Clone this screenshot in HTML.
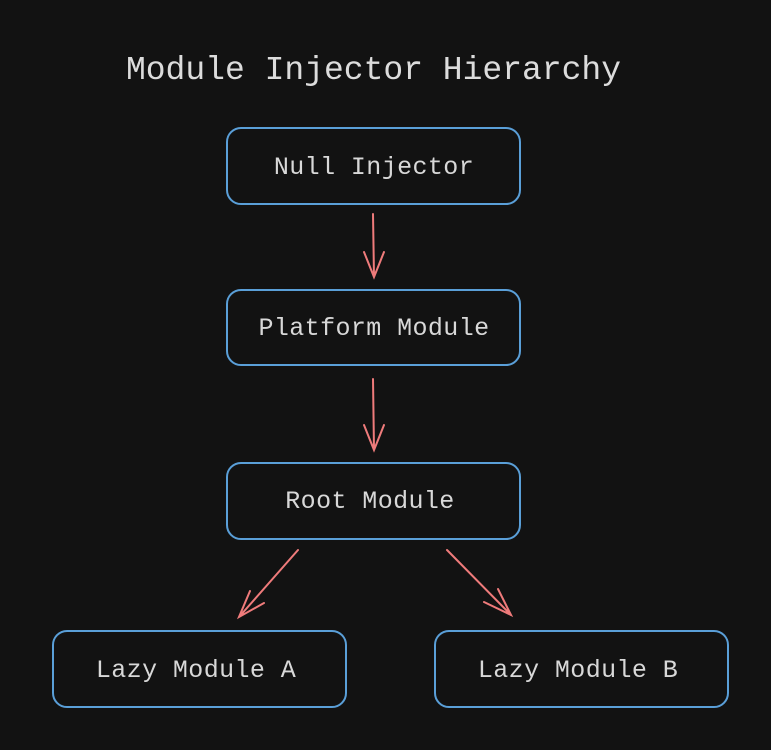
<!DOCTYPE html>
<html><head><meta charset="utf-8"><style>
html,body{margin:0;padding:0;background:#121212;}
body{width:771px;height:750px;overflow:hidden;}
</style></head><body>
<svg width="771" height="750" xmlns="http://www.w3.org/2000/svg" style="display:block">
<rect width="771" height="750" fill="#121212"/>
<text x="373.5" y="79" text-anchor="middle" font-family="Liberation Mono, monospace" font-size="33" fill="#dcdcdc">Module Injector Hierarchy</text>
<g fill="none" stroke="#5a9fd8" stroke-width="2">
<rect x="227" y="128" width="293" height="76" rx="14"/>
<rect x="227" y="290" width="293" height="75" rx="14"/>
<rect x="227" y="463" width="293" height="76" rx="14"/>
<rect x="53" y="631" width="293" height="76" rx="14"/>
<rect x="435" y="631" width="293" height="76" rx="14"/>
</g>
<g font-family="Liberation Mono, monospace" font-size="25" letter-spacing="0.4" fill="#d8d8d8" text-anchor="middle">
<text x="374" y="174">Null Injector</text>
<text x="374" y="335">Platform Module</text>
<text x="370" y="508">Root Module</text>
<text x="196" y="677">Lazy Module A</text>
<text x="578" y="677">Lazy Module B</text>
</g>
<g fill="none" stroke="#ef7b7b" stroke-width="2" stroke-linecap="round">
<path d="M373 214 L374 277 M364 252 L374 277 L384 252"/>
<path d="M373 379 L374 450 M364 425 L374 450 L384 425"/>
<path d="M298 550 L239 617 M250 591 L239 617 L264 603"/>
<path d="M447 550 L511 615 M498 589 L511 615 L484 602"/>
</g>
</svg>
</body></html>
